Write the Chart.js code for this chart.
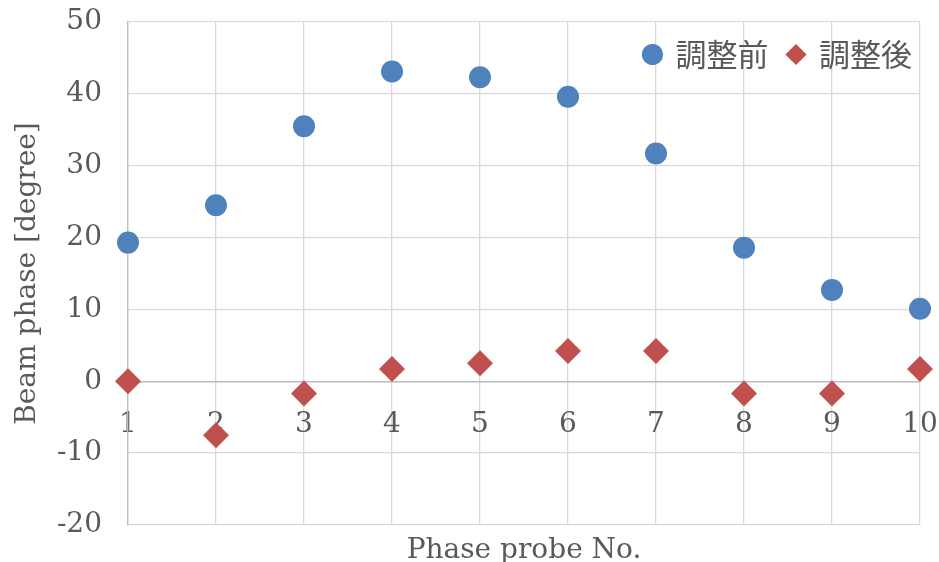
<!DOCTYPE html>
<html>
<head>
<meta charset="utf-8">
<script src="https://cdn.jsdelivr.net/npm/chart.js@4"></script>
<style>
  html, body { margin: 0; padding: 0; background: #fff; }
  #wrap { width: 939px; height: 562px; }
</style>
</head>
<body>
<div id="wrap"><canvas id="phase-chart"></canvas></div>
<script>
const probes = [1, 2, 3, 4, 5, 6, 7, 8, 9, 10];
const before = [19.3, 24.5, 35.5, 43.1, 42.3, 39.6, 31.7, 18.6, 12.7, 10.1];
const after = [0, -7.5, -1.7, 1.7, 2.5, 4.2, 4.2, -1.7, -1.7, 1.7];
const seriesNames = ["調整前", "調整後"];

const serif = "'DejaVu Serif', 'Liberation Serif', serif";
const textColor = "#595959";

// keep the legend inside the plot area, like the original
const legendInside = {
  id: "legendInside",
  beforeLayout(chart) {
    const lg = chart.legend;
    if (lg && !lg._wrapped) {
      const fit = lg.fit.bind(lg);
      lg.fit = function () {
        fit();
        this._realH = this.height;
        this.height = 0;
      };
      lg._wrapped = true;
    }
  },
  afterLayout(chart) {
    const lg = chart.legend;
    lg.top = chart.chartArea.top - 3;
    lg.height = lg._realH;
    lg.bottom = lg.top + lg._realH;
    lg.right = chart.chartArea.right + 12;
  },
};

function noPadding(scale) {
  scale.paddingLeft = 0;
  scale.paddingRight = 0;
  scale.paddingTop = 0;
  scale.paddingBottom = 0;
}

const data = {
  datasets: [
    {
      label: seriesNames[0],
      data: probes.map((x, i) => ({ x: x, y: before[i] })),
      backgroundColor: "#4F81BD",
      borderColor: "#4F81BD",
      pointStyle: "circle",
      pointRadius: 11,
      pointHoverRadius: 11,
      borderWidth: 0,
      clip: false,
    },
    {
      label: seriesNames[1],
      data: probes.map((x, i) => ({ x: x, y: after[i] })),
      backgroundColor: "#C0504D",
      borderColor: "#C0504D",
      pointStyle: "rectRot",
      pointRadius: 13,
      pointHoverRadius: 13,
      borderWidth: 0,
      clip: false,
    },
  ],
};

const config = {
  type: "scatter",
  data: data,
  plugins: [legendInside],
  options: {
    responsive: true,
    maintainAspectRatio: false,
    animation: false,
    layout: { padding: { top: 22, right: 19, left: 0, bottom: 0 } },
    plugins: {
      tooltip: { enabled: false },
      legend: {
        position: "top",
        align: "end",
        labels: {
          usePointStyle: true,
          boxWidth: 15,
          boxHeight: 15,
          padding: 20,
          color: textColor,
          font: { family: "'Noto Sans CJK JP', sans-serif", size: 31 },
        },
      },
    },
    scales: {
      x: {
        type: "linear",
        position: { y: 0 },
        min: 1,
        max: 10,
        ticks: {
          stepSize: 1,
          padding: 27,
          color: textColor,
          font: { family: serif, size: 28 },
        },
        grid: { color: "#d9d9d9", lineWidth: 1.3, drawTicks: false },
        border: { color: "#bfbfbf", width: 1.5 },
        afterFit: noPadding,
      },
      xt: {
        type: "linear",
        axis: "x",
        position: "bottom",
        min: 1,
        max: 10,
        ticks: { display: false },
        grid: { display: false, drawTicks: false },
        border: { display: false },
        title: {
          display: true,
          text: "Phase probe No.",
          color: textColor,
          font: { family: serif, size: 28 },
          padding: { top: 0, bottom: -6 },
        },
        afterFit(scale) {
          noPadding(scale);
          scale.height = 37;
        },
      },
      y: {
        min: -20,
        max: 50,
        ticks: {
          stepSize: 10,
          padding: 26,
          color: textColor,
          font: { family: serif, size: 28 },
        },
        grid: {
          color: (ctx) => (ctx.tick && ctx.tick.value === 0 ? "#bfbfbf" : "#d9d9d9"),
          lineWidth: 1.3,
          drawTicks: false,
        },
        border: { color: "#bfbfbf", width: 1.3 },
        title: {
          display: true,
          text: "Beam phase [degree]",
          color: textColor,
          font: { family: serif, size: 28 },
          padding: { top: 11, bottom: 0 },
        },
        afterFit(scale) {
          noPadding(scale);
          scale.width = 128;
        },
      },
    },
  },
};

const phaseChart = new Chart(document.getElementById("phase-chart"), config);
</script>
</body>
</html>
